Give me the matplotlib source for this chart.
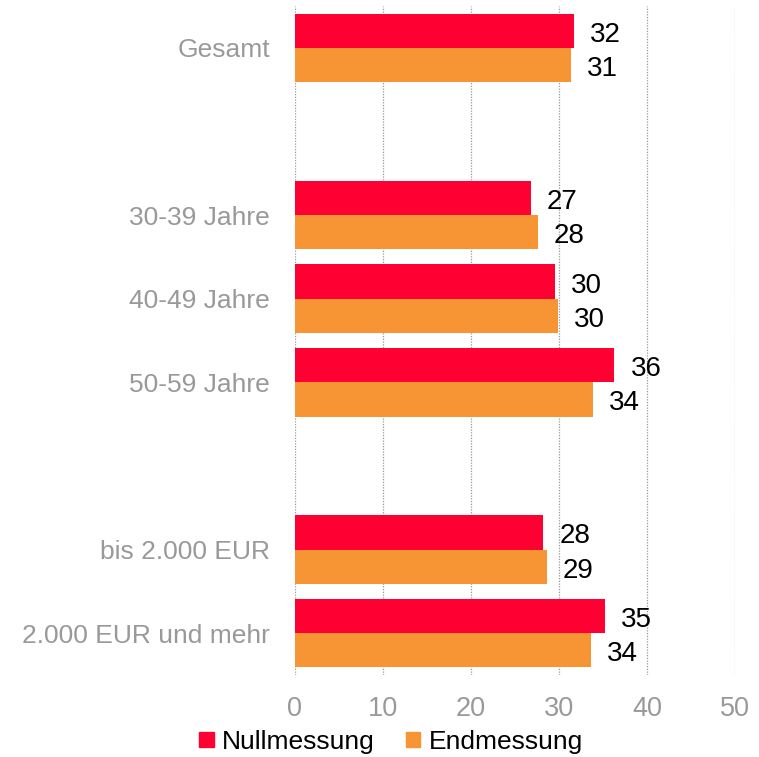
import numpy as np
import matplotlib.pyplot as plt
from matplotlib.patches import Patch

plt.rcParams['font.family'] = ['Liberation Sans', 'DejaVu Sans']

# categories top to bottom, empty strings are spacer rows
categories = ["Gesamt", "", "30-39 Jahre", "40-49 Jahre", "50-59 Jahre", "",
              "bis 2.000 EUR", "2.000 EUR und mehr"]
nullmessung = [31.7, None, 26.8, 29.5, 36.3, None, 28.2, 35.2]
endmessung = [31.4, None, 27.6, 29.85, 33.9, None, 28.6, 33.6]
series_names = ["Nullmessung", "Endmessung"]
x_ticks = [0, 10, 20, 30, 40, 50]

RED = '#FF0033'
ORANGE = '#F79433'
GREY = '#999999'

fig = plt.figure(figsize=(7.59, 7.57), dpi=100)
ax = fig.add_axes([295 / 759, 1 - 675 / 757, 440 / 759, 669 / 757])

n = len(categories)
ypos = np.arange(n)
h = 0.41

for vals, off, col in [(nullmessung, -h / 2, RED), (endmessung, h / 2, ORANGE)]:
    idx = [i for i, v in enumerate(vals) if v is not None]
    v = [vals[i] for i in idx]
    yy = ypos[idx] + off
    ax.barh(yy, v, height=h, color=col, zorder=3)
    for yi, vi in zip(yy, v):
        ax.annotate(f"{vi:.0f}", (vi, yi), xytext=(16, -1), textcoords='offset pixels',
                    ha='left', va='center_baseline', fontsize=20, color='black')

ax.set_ylim(n - 0.5, -0.5)
ax.set_xlim(0, 50)
ax.set_xticks(x_ticks)
ax.set_yticks(ypos)
ax.set_yticklabels(categories)
ax.tick_params(axis='y', length=0, pad=18, labelsize=19, labelcolor=GREY)
ax.tick_params(axis='x', length=0, pad=15, labelsize=19.5, labelcolor=GREY)
for s in ax.spines.values():
    s.set_visible(False)
ax.xaxis.grid(True, color='#999999', linestyle=(0, (1, 1.2)), linewidth=0.9, zorder=0)
ax.set_axisbelow(True)

handles = [Patch(color=RED), Patch(color=ORANGE)]
fig.legend(handles, series_names, loc='center', bbox_to_anchor=(0.515, 0.02),
           ncol=2, frameon=False, fontsize=19, handlelength=0.55, handleheight=0.55,
           handletextpad=0.3, columnspacing=1.2, borderaxespad=0)

fig.savefig('out.png', dpi=100)
